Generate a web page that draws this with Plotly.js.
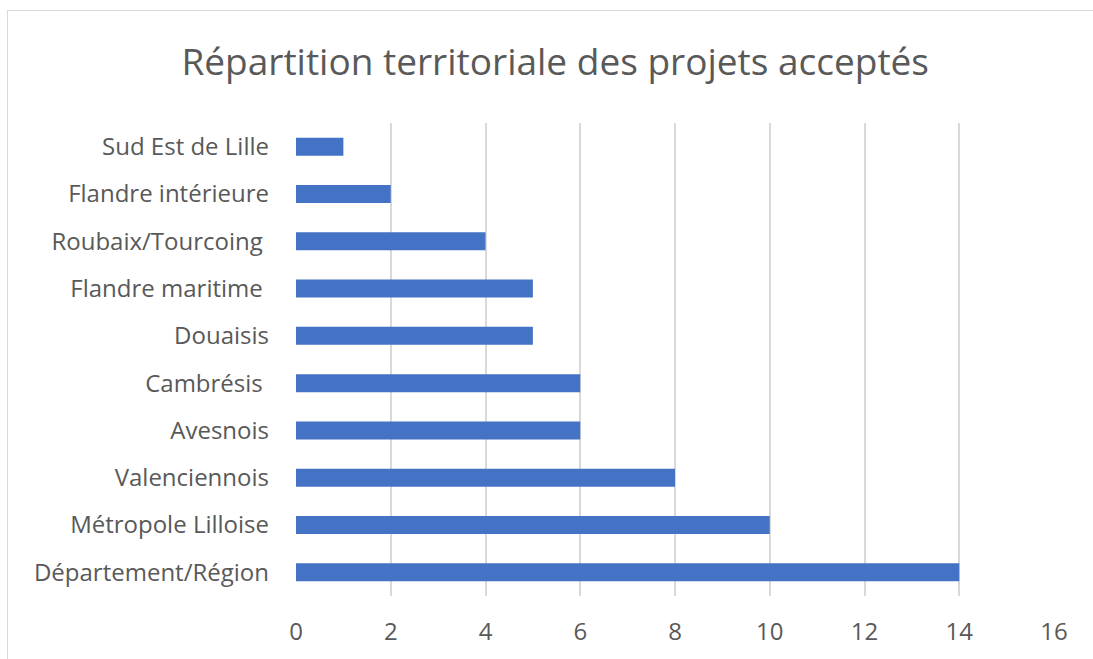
<!DOCTYPE html>
<html><head><meta charset="utf-8">
<script src="https://cdn.plot.ly/plotly-3.0.1.min.js"></script>
<style>
html,body{margin:0;padding:0;background:#fff;}
#chart{width:1093px;height:659px;}
#frame{position:absolute;left:7px;top:10px;width:1200px;height:800px;border:1px solid #d9d9d9;pointer-events:none;}
</style></head>
<body>
<div id="chart"></div>
<div id="frame"></div>
<script>
const categories = ["Département/Région","Métropole Lilloise","Valenciennois","Avesnois","Cambrésis ","Douaisis","Flandre maritime ","Roubaix/Tourcoing ","Flandre intérieure","Sud Est de Lille"];
const values = [14,10,8,6,6,5,5,4,2,1];
const xTicks = [0,2,4,6,8,10,12,14,16];

Plotly.newPlot('chart', [{
  type:'bar', orientation:'h',
  y: categories, x: values,
  marker:{color:'#4472C4'},
  width:0.38,
  hoverinfo:'none'
}], {
  width:1093, height:659,
  paper_bgcolor:'rgba(0,0,0,0)', plot_bgcolor:'#fff',
  margin:{l:296,r:39,t:123,b:63},
  font:{family:'"Open Sans", sans-serif', color:'#595959', size:24},
  title:{text:'Répartition territoriale des projets acceptés', x:0.508, xref:'container', xanchor:'center', y:0.906, yref:'container', yanchor:'middle', font:{size:37,color:'#595959'}},
  xaxis:{range:[0,16], tickvals:xTicks, ticktext:xTicks.map(String), showgrid:true, gridcolor:'#d9d9d9', gridwidth:2, zeroline:false, showline:false, ticks:'', ticklabelstandoff:19, fixedrange:true},
  yaxis:{type:'category', categoryorder:'array', categoryarray:categories, range:[-0.5,9.5], showgrid:false, zeroline:false, showline:false, ticks:'', ticklabelstandoff:26, fixedrange:true},
  showlegend:false
}, {displayModeBar:false, staticPlot:true});
</script>
</body></html>
